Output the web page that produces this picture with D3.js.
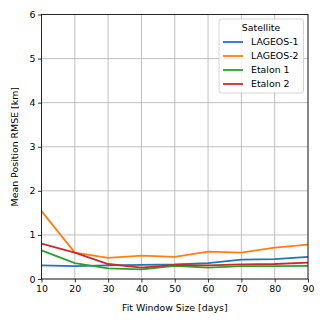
<!DOCTYPE html>
<html><head><meta charset="utf-8">
<script src="https://cdn.jsdelivr.net/npm/d3@7"></script>
<style>body{margin:0;background:#fff}svg{display:block;font-family:"DejaVu Sans",sans-serif}</style>
</head><body>
<script>
const windows = [10,20,30,40,50,60,70,80,90];
const lageos1 = [0.31,0.29,0.31,0.32,0.33,0.36,0.44,0.45,0.50];
const lageos2 = [1.54,0.60,0.48,0.53,0.50,0.62,0.60,0.71,0.78];
const etalon1 = [0.65,0.36,0.24,0.22,0.30,0.26,0.29,0.29,0.30];
const etalon2 = [0.80,0.60,0.34,0.26,0.32,0.31,0.33,0.34,0.37];
const seriesNames = ["LAGEOS-1","LAGEOS-2","Etalon 1","Etalon 2"];
const colors = ["#1f77b4","#ff7f0e","#2ca02c","#d62728"];
const series = [lageos1,lageos2,etalon1,etalon2];
const xTicks = [10,20,30,40,50,60,70,80,90];
const yTicks = [0,1,2,3,4,5,6];

const FS=9.4;
const W=325,H=325, L=41.5, R=308, T=14.5, B=279;
const svg=d3.select("body").append("svg").attr("width",W).attr("height",H);
const x=d3.scaleLinear().domain([10,90]).range([L,R]);
const y=d3.scaleLinear().domain([0,6]).range([B,T]);

const g=svg.append("g");
g.selectAll(".vg").data(xTicks).enter().append("line")
 .attr("x1",d=>x(d)).attr("x2",d=>x(d)).attr("y1",T).attr("y2",B)
 .attr("stroke","#b0b0b0").attr("stroke-width",0.8);
g.selectAll(".hg").data(yTicks).enter().append("line")
 .attr("y1",d=>y(d)).attr("y2",d=>y(d)).attr("x1",L).attr("x2",R)
 .attr("stroke","#b0b0b0").attr("stroke-width",0.8);

const line=d3.line().x((d,i)=>x(windows[i])).y(d=>y(d));
const clip=svg.append("clipPath").attr("id","c").append("rect").attr("x",L).attr("y",T).attr("width",R-L).attr("height",B-T);
series.forEach((s,i)=>{
  svg.append("path").datum(s).attr("d",line).attr("fill","none")
   .attr("stroke",colors[i]).attr("stroke-width",1.8).attr("clip-path","url(#c)");
});

const xa=svg.append("g").attr("transform",`translate(0,${B})`)
 .call(d3.axisBottom(x).tickValues(xTicks).tickSize(3.5).tickPadding(2.5).tickFormat(d3.format("d")));
const ya=svg.append("g").attr("transform",`translate(${L},0)`)
 .call(d3.axisLeft(y).tickValues(yTicks).tickSize(3.5).tickPadding(2.5).tickFormat(d3.format("d")));
[xa,ya].forEach(a=>{a.select(".domain").remove();a.selectAll("text").attr("font-size",FS).attr("fill","#000").attr("font-family","DejaVu Sans");a.selectAll("line").attr("stroke","#000").attr("stroke-width",0.8);});

svg.append("rect").attr("x",L).attr("y",T).attr("width",R-L).attr("height",B-T)
 .attr("fill","none").attr("stroke","#000").attr("stroke-width",0.8);

svg.append("text").attr("x",(L+R)/2).attr("y",311).attr("text-anchor","middle")
 .attr("font-size",FS).text("Fit Window Size [days]");
svg.append("text").attr("transform",`translate(18,${(T+B)/2}) rotate(-90)`).attr("text-anchor","middle")
 .attr("font-size",FS).text("Mean Position RMSE [km]");

const lg=svg.append("g");
lg.append("rect").attr("x",219).attr("y",19).attr("width",84.5).attr("height",74).attr("rx",2)
 .attr("fill","#fff").attr("fill-opacity",0.8).attr("stroke","#cccccc").attr("stroke-width",0.8);
lg.append("text").attr("x",261).attr("y",30.5).attr("text-anchor","middle").attr("font-size",FS).text("Satellite");
seriesNames.forEach((n,i)=>{
  const yy=42+i*14;
  lg.append("line").attr("x1",223).attr("x2",243).attr("y1",yy).attr("y2",yy).attr("stroke",colors[i]).attr("stroke-width",1.8);
  lg.append("text").attr("x",251).attr("y",yy+3.3).attr("font-size",FS).text(n);
});
</script>
</body></html>
